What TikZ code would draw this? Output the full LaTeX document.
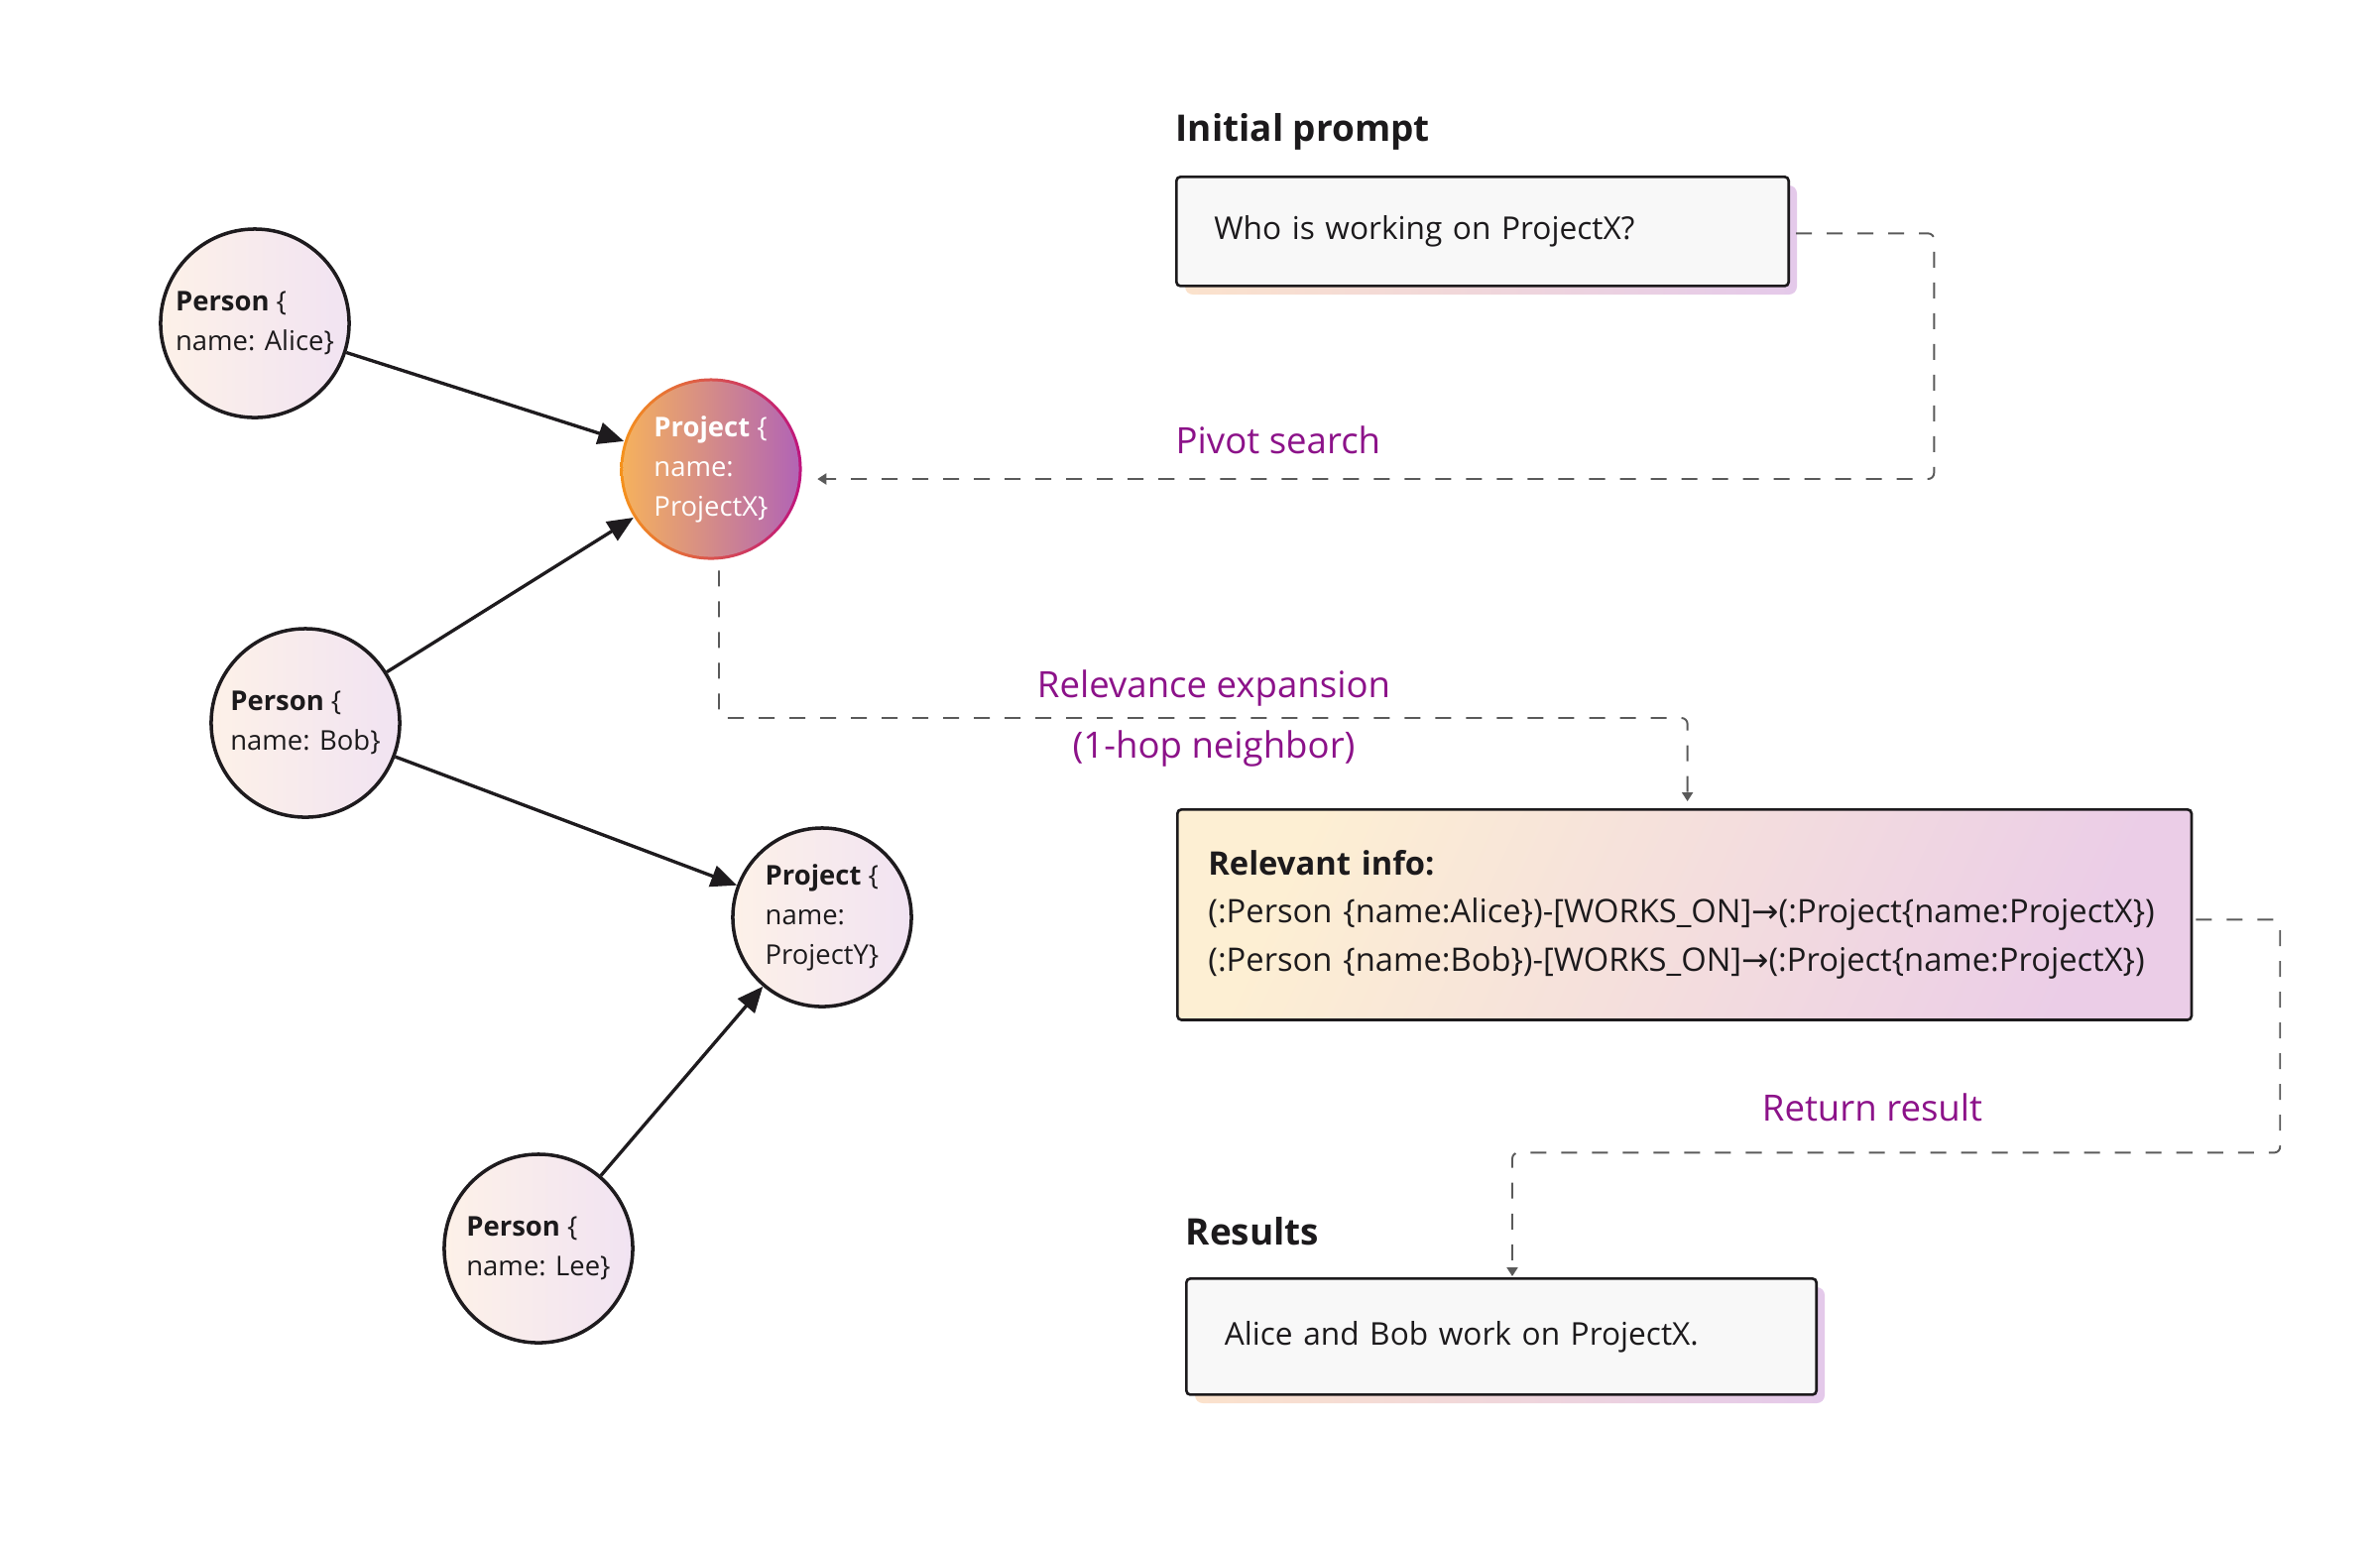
\documentclass[tikz,border=0pt]{standalone}
\usepackage{fontspec}
\setmainfont{Open Sans}
\newfontfamily\arrowfont{DejaVu Sans}
\usetikzlibrary{arrows.meta,calc}
\definecolor{nodeborder}{HTML}{1E1B1E}
\definecolor{cL}{HTML}{FDF1E8}
\definecolor{cR}{HTML}{F1E3F2}
\definecolor{pxbL}{HTML}{F5921C}
\definecolor{pxbM}{HTML}{E5234C}
\definecolor{pxbR}{HTML}{BE137E}
\definecolor{pxfL}{HTML}{F6B25C}
\definecolor{pxfM}{HTML}{E36C82}
\definecolor{pxfR}{HTML}{B163B6}
\definecolor{textdark}{HTML}{1C1A1C}
\definecolor{flowgray}{HTML}{5A5A5A}
\definecolor{lblpurple}{HTML}{8C1289}
\definecolor{boxfill}{HTML}{F8F8F8}
\definecolor{shL}{HTML}{FBE2CC}
\definecolor{shM}{HTML}{F3CFD8}
\definecolor{shR}{HTML}{E4C9EA}
\definecolor{infoL}{HTML}{FDEFD3}
\definecolor{infoM}{HTML}{F6D4D7}
\definecolor{infoR}{HTML}{EBCDE7}
\begin{document}
\begin{tikzpicture}[x=0.01cm,y=-0.01cm,
  graphnode/.style={circle, draw=nodeborder, line width=1pt, inner sep=0pt,
    minimum size=19mm, left color=cL, right color=cR, align=left,
    text=textdark, font=\fontsize{7.8}{11.4}\selectfont},
  projnode/.style={graphnode, minimum size=18mm},
  projx/.style={circle, inner sep=0pt, minimum size=18.3mm,
    left color=pxbL, middle color=pxbM, right color=pxbR,
    path picture={\shade[left color=pxfL, middle color=pxfM, right color=pxfR]
      (path picture bounding box.center) circle (8.85mm);},
    align=left, text=white, font=\fontsize{7.8}{11.4}\selectfont},
  edge/.style={draw=nodeborder, line width=0.95pt,
    -{Triangle[length=2.6mm,width=2.2mm]}},
  flow/.style={draw=flowgray, line width=0.55pt, dash pattern=on 1.6mm off 1.5mm,
    rounded corners=0.6mm, -{Triangle[length=0.9mm,width=1.1mm]}},
  box/.style={draw=textdark, line width=0.75pt, fill=boxfill, rounded corners=0.4mm,
    anchor=north west, align=left, text=textdark},
  shadowbox/.style={left color=shL, middle color=shM, right color=shR, rounded corners=0.8mm},
  lbl/.style={inner sep=0pt, text=lblpurple, font=\fontsize{10.4}{12}\selectfont},
  ttl/.style={inner sep=0pt, text=textdark, font=\fontsize{10.5}{13}\selectfont\bfseries},
]
\useasboundingbox (0,0) rectangle (2400,1556);

% graph nodes
\node[graphnode] (alice) at (257,326) {\textbf{Person} \{\\name: Alice\}};
\node[projx] (px) at (717,473) {\textbf{Project} \{\\name:\\ProjectX\}};
\node[graphnode] (bob) at (308,729) {\textbf{Person} \{\\name: Bob\}};
\node[projnode] (py) at (829,925) {\textbf{Project} \{\\name:\\ProjectY\}};
\node[graphnode] (lee) at (543,1259) {\textbf{Person} \{\\name: Lee\}};

\draw[edge] (alice) -- (px);
\draw[edge] (bob) -- (px);
\draw[edge] (bob) -- (py);
\draw[edge] (lee) -- (py);

% titles
\node[ttl, anchor=base west] (tprompt) at (1185,142) {Initial prompt};
\node[ttl, anchor=base west] (tres) at (1195,1255) {Results};

% boxes
\shade[shadowbox] (1195,187) rectangle (1812,297);
\node[box, minimum width=61.7mm, minimum height=11mm, text width=54.1mm, inner xsep=3.8mm,
  font=\fontsize{9.0}{11}\selectfont] (prompt) at (1185,177) {Who is working on ProjectX?};

\node[draw=textdark, line width=0.75pt, rounded corners=0.4mm, anchor=north west,
  left color=infoL, middle color=infoM, right color=infoR, shading angle=65,
  minimum width=102.2mm, minimum height=21.2mm, text width=96mm, inner xsep=3.1mm,
  align=left, text=textdark, font=\fontsize{9.3}{13.7}\selectfont] (info) at (1186,815)
  {\textbf{Relevant info:}\\
   (:Person \{name:Alice\})-[WORKS\_ON]{\arrowfont →}(:Project\{name:ProjectX\})\\
   (:Person \{name:Bob\})-[WORKS\_ON]{\arrowfont →}(:Project\{name:ProjectX\})};

\shade[shadowbox] (1205,1298) rectangle (1840,1415);
\node[box, minimum width=63.5mm, minimum height=11.7mm, text width=55.8mm, inner xsep=3.85mm,
  font=\fontsize{9.0}{11}\selectfont] (res) at (1195,1288) {Alice and Bob work on ProjectX.};

% labels
\node[lbl, anchor=base west] (lpivot) at (1185,457) {Pivot search};
\node[lbl, anchor=base] (lrel) at (1224,703) {Relevance expansion};
\node[lbl, anchor=base] (lhop) at (1224,764) {(1-hop neighbor)};
\node[lbl, anchor=base] (lret) at (1888,1130) {Return result};

% dashed flows
\draw[flow] ($(prompt.east)+(6,2)$) -| ($(px.east)+(1141,10)$) -- ($(px.east)+(15,10)$);
\draw[flow] ($(px.south)+(8,10)$) |- ($(info.north)+(3,-91)$) -- ($(info.north)+(3,-7)$);
\draw[flow] ($(info.east)+(3,5)$) -| ($(info.east)+(88,240)$) -| ($(res.north)+(11,-1)$);
\end{tikzpicture}
\end{document}
